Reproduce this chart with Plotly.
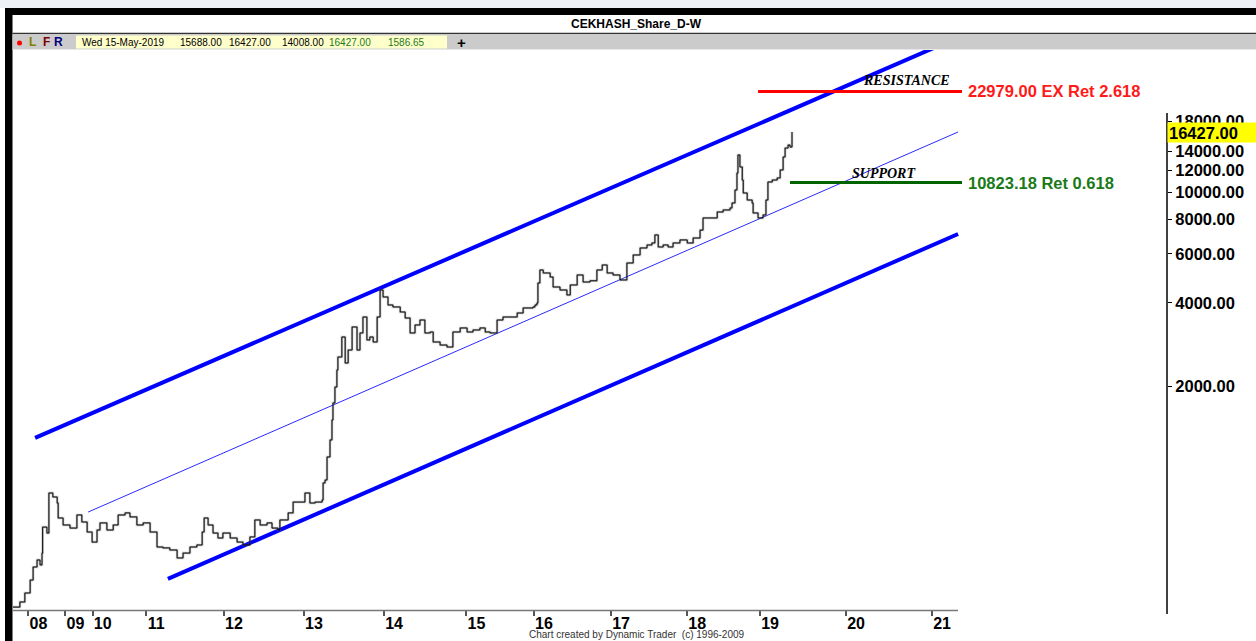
import math
import plotly.graph_objects as go

# ---------------- data ----------------
# bar index (trading bars since start) and price
bars = [0, 21, 36, 52, 61, 73, 82, 88, 90, 103, 109, 121, 134, 137, 152, 173, 194, 209, 225, 240,
        255, 264, 285, 304, 319, 340, 355, 376, 395, 416, 437, 455, 476, 498, 516, 537, 558, 574, 580, 592,
        607, 622, 637, 659, 680, 698, 719, 734, 750, 771, 786, 804, 810, 835, 850, 871, 886, 901, 917, 938,
        941, 947, 953, 962, 968, 971, 977, 983, 986, 998, 1008, 1017, 1029, 1044, 1053, 1062, 1074, 1083, 1093, 1105,
        1114, 1123, 1138, 1153, 1175, 1190, 1205, 1220, 1235, 1250, 1266, 1275, 1296, 1317, 1335, 1357, 1378, 1396, 1417, 1433,
        1448, 1469, 1487, 1508, 1530, 1548, 1578, 1584, 1590, 1593, 1599, 1609, 1630, 1639, 1660, 1681, 1691, 1712, 1730, 1751,
        1772, 1788, 1803, 1821, 1842, 1863, 1882, 1903, 1924, 1939, 1948, 1958, 1973, 1988, 2003, 2024, 2046, 2064, 2085, 2094,
        2115, 2137, 2155, 2176, 2182, 2191, 2197, 2200, 2206, 2213, 2216, 2228, 2243, 2246, 2261, 2276, 2285, 2291, 2304, 2319,
        2328, 2337, 2343, 2352, 2358, 2364]
close = [323, 337, 363, 404, 450, 477, 458, 505, 626, 596, 830, 803, 764, 675, 637, 621, 692, 653, 601, 553,
         611, 648, 611, 637, 692, 704, 681, 637, 648, 601, 531, 527, 518, 485, 505, 531, 540, 601, 675, 637,
         596, 572, 596, 572, 553, 540, 577, 664, 637, 648, 621, 611, 664, 704, 770, 770, 830, 764, 770, 783,
         902, 924, 1118, 1287, 1518, 1748, 1994, 2296, 2556, 3016, 2432, 2708, 3276, 2708, 3118, 3558, 2943, 3016, 2894, 3558,
         4449, 4199, 3930, 3866, 3709, 3529, 3118, 3331, 3471, 3118, 3144, 2894, 2822, 2776, 3144, 3250, 3144, 3196, 3250, 3144,
         3118, 3471, 3558, 3558, 3678, 3834, 3866, 3930, 3997, 4715, 5250, 5121, 4954, 4560, 4449, 4269, 4637, 5037, 4753, 4800,
         5250, 5472, 5121, 5037, 4833, 5562, 5943, 6298, 6456, 6564, 7014, 6350, 6456, 6350, 6564, 6730, 6564, 6839, 7300, 8072,
         8072, 8482, 8624, 8768, 9135, 10174, 11710, 13591, 12308, 11050, 9924, 9365, 9135, 8412, 8072, 8275, 9365, 10869, 11050, 11236,
         12005, 13366, 14394, 14758, 14515, 16427]

year_labels = ["08", "09", "10", "11", "12", "13", "14", "15", "16", "17", "18", "19", "20", "21"]
year_start_bar = [47, 159, 242, 404, 640, 883, 1126, 1376, 1581, 1815, 2046, 2267, 2528, 2789]

price_ticks = [2000, 4000, 6000, 8000, 10000, 12000, 14000, 18000]

upper_channel_bar = [67, 2868]
upper_channel_val = [1310, 35940]
middle_channel_bar = [228, 2868]
middle_channel_val = [709, 16437]
lower_channel_bar = [470, 2868]
lower_channel_val = [408, 7070]

resistance_val = 22979.00
resistance_bar = [2261, 2880]
support_val = 10823.18
support_bar = [2358, 2880]

last_close = 16427.00
info_items = ["Wed 15-May-2019", "15688.00", "16427.00", "14008.00", "16427.00", "1586.65"]
info_colors = ["black", "black", "black", "black", "#1a7a1a", "#1a7a1a"]

# ---------------- figure ----------------
W, H = 1256, 641
ML, MR, MT, MB = 13, 89, 50, 31
PW, PH = W - ML - MR, H - MT - MB


def px(x):
    return (x - ML) / PW


def py(y):
    return (H - MB - y) / PH


fig = go.Figure()

# channel lines
fig.add_trace(go.Scatter(x=upper_channel_bar, y=upper_channel_val, mode="lines",
                         line=dict(color="#0000ff", width=4), hoverinfo="skip"))
fig.add_trace(go.Scatter(x=lower_channel_bar, y=lower_channel_val, mode="lines",
                         line=dict(color="#0000ff", width=4), hoverinfo="skip"))
fig.add_trace(go.Scatter(x=middle_channel_bar, y=middle_channel_val, mode="lines",
                         line=dict(color="#2a2aff", width=1), hoverinfo="skip"))
# resistance / support
fig.add_trace(go.Scatter(x=resistance_bar, y=[resistance_val] * 2, mode="lines",
                         line=dict(color="#ff0000", width=3), hoverinfo="skip"))
fig.add_trace(go.Scatter(x=support_bar, y=[support_val] * 2, mode="lines",
                         line=dict(color="#006400", width=3), hoverinfo="skip"))
# price
fig.add_trace(go.Scatter(x=bars, y=close, mode="lines",
                         line=dict(color="rgba(110,110,110,0.4)", width=2.5, shape="hv"), hoverinfo="skip"))
fig.add_trace(go.Scatter(x=bars, y=close, mode="lines",
                         line=dict(color="black", width=1, shape="hv")))

lab_font = dict(family="Liberation Sans", size=16.5, color="black", weight="bold")

fig.update_layout(
    width=W, height=H, autosize=False,
    margin=dict(l=ML, r=MR, t=MT, b=MB, pad=0, autoexpand=False),
    paper_bgcolor="white", plot_bgcolor="white",
    showlegend=False,
    xaxis=dict(range=[0, 3502], tickvals=year_start_bar, ticktext=year_labels,
               ticks="outside", ticklen=5, tickcolor="#555555", tickwidth=1.5,
               ticklabelshift=10, ticklabelstandoff=-6,
               tickfont=dict(family="Liberation Sans", size=16, color="black", weight="bold"),
               showgrid=False, zeroline=False, showline=False, fixedrange=True, automargin=False),
    yaxis=dict(type="log", range=[2.4988, 4.5103], side="right",
               tickvals=price_ticks, ticktext=[f"{v:.2f}" for v in price_ticks],
               ticks="outside", ticklen=4, tickcolor="black", tickwidth=1,
               tickfont=lab_font, showgrid=False, zeroline=False, showline=False, fixedrange=True,
               automargin=False),
)

shapes = []
# top light strip
shapes.append(dict(type="rect", xref="paper", yref="paper", x0=px(0), x1=px(W), y0=py(0), y1=py(8),
                   fillcolor="#eef2f7", line_width=0, layer="above"))
# black window frame top and left
shapes.append(dict(type="rect", xref="paper", yref="paper", x0=px(5), x1=px(W), y0=py(8), y1=py(15),
                   fillcolor="black", line_width=0, layer="above"))
shapes.append(dict(type="rect", xref="paper", yref="paper", x0=px(5), x1=px(12.5), y0=py(8), y1=py(H),
                   fillcolor="black", line_width=0, layer="above"))
# title separator
shapes.append(dict(type="line", xref="paper", yref="paper", x0=px(12.5), x1=px(W), y0=py(33.5), y1=py(33.5),
                   line=dict(color="#333333", width=1.5), layer="above"))
# toolbar
shapes.append(dict(type="rect", xref="paper", yref="paper", x0=px(12.5), x1=px(W), y0=py(34.5), y1=py(49.5),
                   fillcolor="#cbcbcb", line_width=0, layer="above"))
shapes.append(dict(type="line", xref="paper", yref="paper", x0=px(12.5), x1=px(W), y0=py(49.5), y1=py(49.5),
                   line=dict(color="#e8e8e8", width=1), layer="above"))
shapes.append(dict(type="rect", xref="paper", yref="paper", x0=px(76), x1=px(447), y0=py(35.5), y1=py(48.5),
                   fillcolor="#ffffcc", line_width=0, layer="above"))
shapes.append(dict(type="circle", xref="paper", yref="paper", x0=px(17), x1=px(22), y0=py(40.5), y1=py(45.5),
                   fillcolor="#ff0000", line_width=0, layer="above"))
# axis lines
shapes.append(dict(type="line", xref="paper", yref="paper", x0=px(13), x1=px(958), y0=py(610.5), y1=py(610.5),
                   line=dict(color="#777777", width=1.5), layer="above"))
shapes.append(dict(type="line", xref="paper", yref="paper", x0=px(1167), x1=px(1167), y0=py(113), y1=py(614),
                   line=dict(color="black", width=1.5), layer="above"))
fig.update_layout(shapes=shapes)

ann = []
ann.append(dict(text="CEKHASH_Share_D-W", xref="paper", yref="paper", x=px(636), y=py(23.5),
                xanchor="center", yanchor="middle", showarrow=False,
                font=dict(family="Liberation Sans", size=12, color="black", weight="bold")))
for t, xx, col in [("L", 32, "#808000"), ("F", 46, "#800000"), ("R", 59, "#000080")]:
    ann.append(dict(text=t, xref="paper", yref="paper", x=px(xx), y=py(42.5), xanchor="center", yanchor="middle",
                    showarrow=False, font=dict(family="Liberation Sans", size=12, color=col, weight="bold")))
info_x = [80, 178, 226.5, 280, 326.5, 386]
for t, xx, col in zip(info_items, info_x, info_colors):
    ann.append(dict(text=t, xref="paper", yref="paper", x=px(xx), y=py(42.5), xanchor="left", yanchor="middle",
                    showarrow=False, font=dict(family="Liberation Sans", size=10, color=col)))
ann.append(dict(text="+", xref="paper", yref="paper", x=px(461), y=py(42.5), xanchor="center", yanchor="middle",
                showarrow=False, font=dict(family="Liberation Sans", size=15, color="black", weight="bold")))
ann.append(dict(text="Chart created by Dynamic Trader  (c) 1996-2009", xref="paper", yref="paper",
                x=px(637), y=py(634.5), xanchor="center", yanchor="middle", showarrow=False,
                font=dict(family="Liberation Sans", size=10, color="#333333")))
# level labels
ann.append(dict(text="RESISTANCE", xref="x", yref="y", x=2850, y=math.log10(resistance_val), yshift=11,
                xanchor="right", yanchor="middle", showarrow=False,
                font=dict(family="Liberation Serif", size=14, color="black", weight="bold", style="italic")))
ann.append(dict(text="SUPPORT", xref="x", yref="y", x=2747, y=math.log10(support_val), yshift=9,
                xanchor="right", yanchor="middle", showarrow=False,
                font=dict(family="Liberation Serif", size=14, color="black", weight="bold", style="italic")))
ann.append(dict(text=f"{resistance_val:.2f} EX Ret 2.618", xref="x", yref="y", x=2892, y=math.log10(resistance_val),
                xanchor="left", yanchor="middle", showarrow=False,
                font=dict(family="Liberation Sans", size=16.5, color="#ff1a1a", weight="bold")))
ann.append(dict(text=f"{support_val:.2f} Ret 0.618", xref="x", yref="y", x=2892, y=math.log10(support_val),
                xanchor="left", yanchor="middle", showarrow=False,
                font=dict(family="Liberation Sans", size=16.5, color="#1a7a1a", weight="bold")))
# last price box
ann.append(dict(text=f"{last_close:.2f}", xref="paper", yref="y", x=1.0, y=math.log10(last_close),
                xanchor="left", yanchor="middle", showarrow=False, align="left",
                width=86, height=17, borderpad=1, bgcolor="#ffff00",
                font=lab_font))
fig.update_layout(annotations=ann)

fig.write_html("out.html", config={"displayModeBar": False},
               post_script="document.body.style.margin='0';document.body.style.overflow='hidden';")
